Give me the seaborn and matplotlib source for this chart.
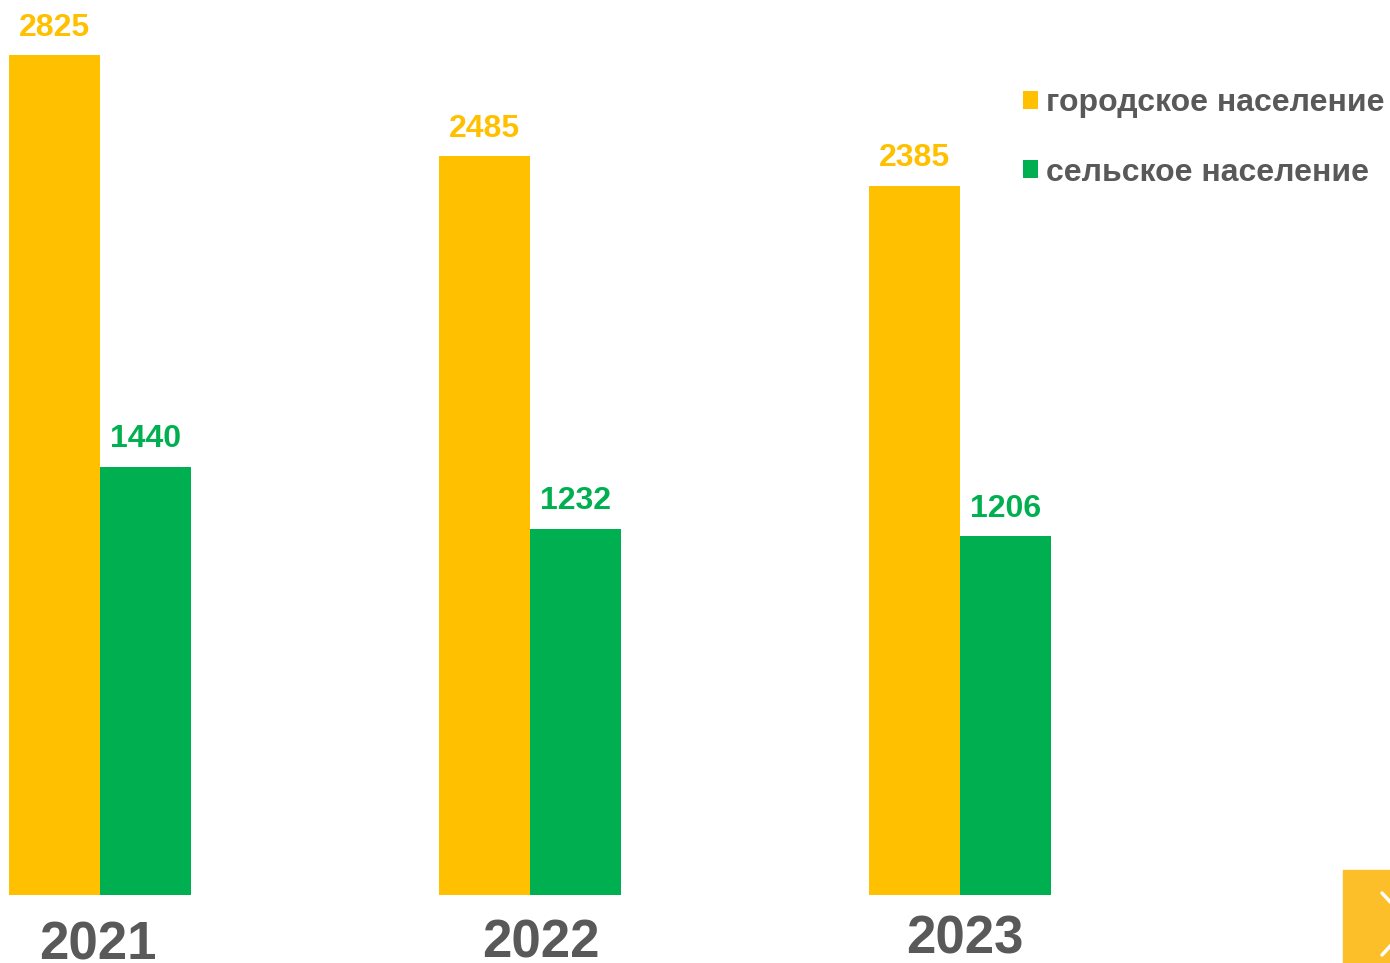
import matplotlib
matplotlib.use("Agg")
import matplotlib.pyplot as plt
import matplotlib.transforms as mtransforms
import seaborn as sns
import pandas as pd
from matplotlib.patches import Rectangle
from matplotlib.lines import Line2D

# data
YEARS = ["2021", "2022", "2023"]
URBAN = [2825, 2485, 2385]
RURAL = [1440, 1232, 1206]
SERIES = ["городское население", "сельское население"]

PALETTE = {SERIES[0]: "#FFC000", SERIES[1]: "#00B050"}
GREY = "#595959"

df = pd.DataFrame({
    "year": YEARS * 2,
    "value": URBAN + RURAL,
    "series": [SERIES[0]] * len(YEARS) + [SERIES[1]] * len(YEARS),
})

sns.set_style("white")
plt.rcParams["font.family"] = ["Liberation Sans", "DejaVu Sans"]
plt.rcParams["font.weight"] = "bold"

W, H = 1390, 963
fig = plt.figure(figsize=(W / 100, H / 100), dpi=100)
# axes spans the full width, bottom at the bar baseline
ax = fig.add_axes([0, (H - 895) / H, 1, 895 / H])

sns.barplot(data=df, x="year", y="value", hue="series", palette=PALETTE,
            width=0.423, gap=0, saturation=1, ax=ax, linewidth=0)

ax.set_xlim(-100 / 430, (W - 100) / 430)
ax.set_ylim(0, 895 / 0.2973)

# value labels above bars
for cont, name in zip(ax.containers, SERIES):
    ax.bar_label(cont, labels=[f"{v:.0f}" for v in cont.datavalues], padding=9,
                 color=PALETTE[name], fontsize=23, fontweight="bold")

# year labels (slightly uneven in the original slide)
ax.set_xlabel("")
ax.set_ylabel("")
ax.set_yticks([])
ax.tick_params(axis="x", length=0, pad=17, labelsize=38, labelcolor=GREY)
nudges = [(-2, -2), (11, 0), (5, 4)]  # pixels: right, up
for t, (dx, dy) in zip(ax.get_xticklabels(), nudges):
    t.set_fontweight("bold")
    t.set_transform(t.get_transform() + mtransforms.ScaledTranslation(dx / 100, dy / 100, fig.dpi_scale_trans))
for s in ax.spines.values():
    s.set_visible(False)

# legend
handles, labels = ax.get_legend_handles_labels()
ax.legend(handles, labels, loc="upper left", bbox_to_anchor=(1023 / W, 1 - 88 / H),
          bbox_transform=fig.transFigure, frameon=False,
          handlelength=0.48, handleheight=0.48, handletextpad=0.25,
          borderpad=0, borderaxespad=0,
          labelspacing=1.24, labelcolor=GREY, prop={"weight": "bold", "size": 23})

# navigation button in the corner
fig.patches.append(Rectangle((1343 / W, 0), (W - 1343) / W, (H - 870) / H,
                             transform=fig.transFigure, color="#FCBF2A", zorder=5))
for y0 in (893, 955):
    fig.lines.append(Line2D([1382 / W, 1392 / W], [1 - y0 / H, 1 - (y0 + (924 - y0) * 0.35) / H],
                            transform=fig.transFigure, color="white", lw=2.5, zorder=6))

fig.savefig("out.png", dpi=100)
